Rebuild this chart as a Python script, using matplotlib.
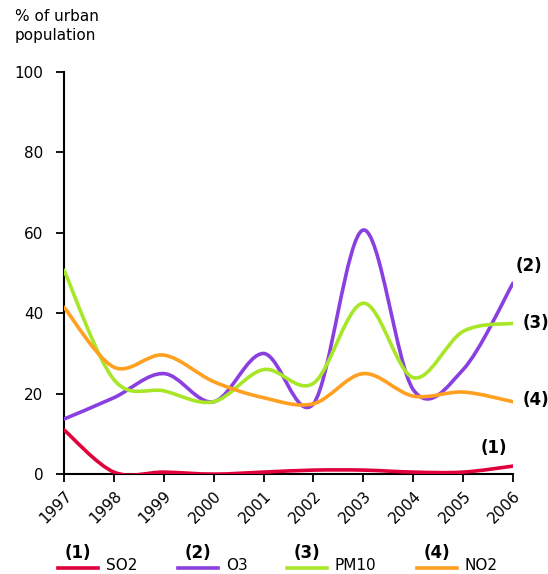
import numpy as np
import matplotlib.pyplot as plt
from matplotlib.path import Path
from matplotlib.patches import PathPatch
from matplotlib.lines import Line2D

years = [1997, 1998, 1999, 2000, 2001, 2002, 2003, 2004, 2005, 2006]
so2 = [11, 0.5, 0.5, 0, 0.5, 1, 1, 0.5, 0.5, 2]
o3 = [13.7, 19, 25, 18, 30, 17.5, 60.7, 21, 26, 47.5]
pm10 = [50.7, 23.5, 20.7, 18, 26, 22.6, 42.5, 24, 35.5, 37.5]
no2 = [41.5, 26.6, 29.6, 23, 19, 17.5, 25, 19.4, 20.4, 18]

series = [("SO2", "(1)", so2, "#e0003c"),
          ("O3", "(2)", o3, "#8a3fe0"),
          ("PM10", "(3)", pm10, "#a8e628"),
          ("NO2", "(4)", no2, "#ffa020")]


def smooth_path(x, y, t=1/6.0):
    # excel-like smoothed line: bezier segments through every point
    p = np.column_stack([x, y]).astype(float)
    n = len(p)
    verts = [p[0]]
    codes = [Path.MOVETO]
    for i in range(n - 1):
        p0 = p[max(i - 1, 0)]
        p1 = p[i]
        p2 = p[i + 1]
        p3 = p[min(i + 2, n - 1)]
        c1 = p1 + (p2 - p0) * t
        c2 = p2 - (p3 - p1) * t
        verts += [c1, c2, p2]
        codes += [Path.CURVE4] * 3
    return Path(verts, codes)


fig = plt.figure(figsize=(5.48, 5.74), dpi=100)
ax = fig.add_axes([0.1168, 0.174, 0.8194, 0.7006])

for name, num, vals, col in series:
    ax.add_patch(PathPatch(smooth_path(years, vals), facecolor='none',
                           edgecolor=col, lw=2.6, capstyle='round', zorder=3))

ax.set_xlim(1997, 2006)
ax.set_ylim(0, 100)
ax.set_xticks(years)
ax.set_xticklabels([str(y) for y in years], rotation=45, ha='right',
                   rotation_mode='anchor', fontsize=11)
ax.set_yticks([0, 20, 40, 60, 80, 100])
ax.tick_params(axis='y', labelsize=11, length=6, width=1.3, pad=9)
ax.tick_params(axis='x', length=6, width=1.3, pad=4)
for s in ['top', 'right']:
    ax.spines[s].set_visible(False)
for s in ['left', 'bottom']:
    ax.spines[s].set_linewidth(1.5)

fig.text(0.027, 0.985, "% of urban\npopulation", fontsize=11, va='top',
         linespacing=1.4)

# end labels
ax.text(2006.05, 49.5, "(2)", fontsize=12, fontweight='bold', ha='left', va='bottom')
ax.text(2006.19, 37.5, "(3)", fontsize=12, fontweight='bold', ha='left', va='center')
ax.text(2006.19, 18.5, "(4)", fontsize=12, fontweight='bold', ha='left', va='center')
ax.text(2005.35, 6.5, "(1)", fontsize=12, fontweight='bold', ha='left', va='center')

# legend at the bottom
legx = [58, 178, 287, 417]
for (name, num, vals, col), x0 in zip(series, legx):
    fig.add_artist(Line2D([x0 / 548, (x0 + 40) / 548], [1 - 568 / 574] * 2,
                          color=col, lw=2.6))
    fig.text((x0 + 20) / 548, 1 - 553 / 574, num, fontsize=12,
             fontweight='bold', ha='center', va='center')
    fig.text((x0 + 48) / 548, 1 - 566 / 574, name, fontsize=11,
             ha='left', va='center')

fig.savefig("out.png", dpi=100)
